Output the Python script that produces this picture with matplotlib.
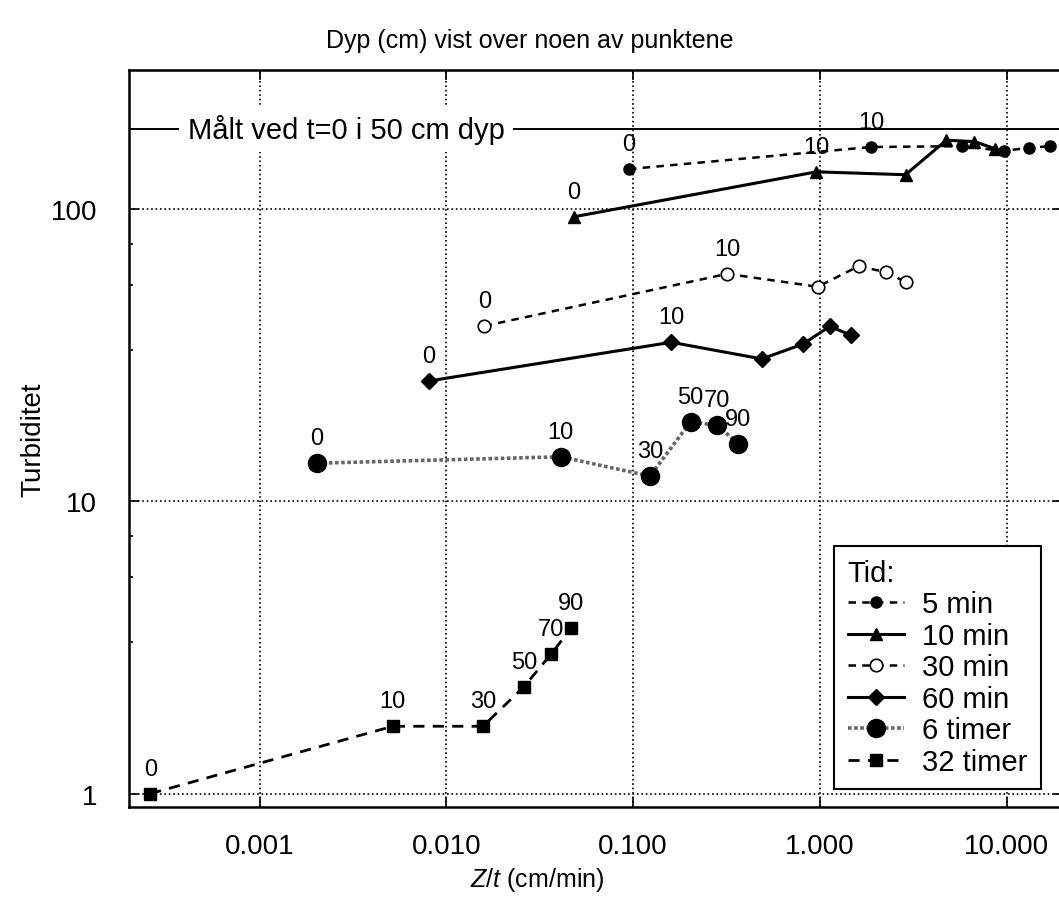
import numpy as np
import matplotlib
matplotlib.use("Agg")
import matplotlib.pyplot as plt
from matplotlib.ticker import LogLocator, FixedFormatter, FixedLocator, NullLocator

plt.rcParams['font.family'] = ['Liberation Sans', 'DejaVu Sans']
plt.rcParams['mathtext.fontset'] = 'custom'
plt.rcParams['mathtext.it'] = 'Liberation Sans:italic'
plt.rcParams['mathtext.rm'] = 'Liberation Sans'

# Z/t (cm/min) and turbiditet per tid
x_5min = [0.095, 1.88, 5.74, 9.64, 13.1, 17.1]
y_5min = [137, 163, 164, 158, 162, 164]
d_5min = ["0", "10", "", "", "", ""]

x_10min = [0.048, 0.957, 2.87, 4.75, 6.71, 8.6]
y_10min = [94, 134, 131, 172, 170, 161]
d_10min = ["0", "10", "", "", "", ""]

x_30min = [0.016, 0.319, 0.97, 1.61, 2.26, 2.9]
y_30min = [39.8, 60, 54.2, 63.7, 60.8, 56.1]
d_30min = ["0", "10", "", "", "", ""]

x_60min = [0.00805, 0.160, 0.488, 0.81, 1.13, 1.46]
y_60min = [25.8, 35.0, 30.7, 34.5, 39.7, 37.0]
d_60min = ["0", "10", "", "", "", ""]

x_6t = [0.00202, 0.041, 0.123, 0.203, 0.282, 0.366]
y_6t = [13.5, 14.2, 12.2, 18.7, 18.2, 15.7]
d_6t = ["0", "10", "30", "50", "70", "90"]

x_32t = [0.00026, 0.00517, 0.0157, 0.026, 0.0365, 0.0467]
y_32t = [1.0, 1.70, 1.70, 2.32, 3.01, 3.69]
d_32t = ["0", "10", "30", "50", "70", "90"]

ref_level = 188  # målt ved t=0 i 50 cm dyp

xticks = [0.001, 0.01, 0.1, 1, 10]
xticklabels = ["0.001", "0.010", "0.100", "1.000", "10.000"]
yticks = [1, 10, 100]
yticklabels = ["1", "10", "100"]

fig = plt.figure(figsize=(10.59, 9.03), dpi=100)
ax = fig.add_axes([0.1218, 0.1052, 0.882, 0.8167])
ax.set_xscale('log')
ax.set_yscale('log')
ax.set_xlim(0.0002, 20)
ax.set_ylim(0.9, 300)

series = [
    (x_5min, y_5min, d_5min, "5 min", dict(ls=(0, (3, 2.5)), lw=1.8, marker='o', ms=8, mfc='k')),
    (x_10min, y_10min, d_10min, "10 min", dict(ls='-', lw=2.2, marker='^', ms=9, mfc='k')),
    (x_30min, y_30min, d_30min, "30 min", dict(ls=(0, (3, 2.5)), lw=1.8, marker='o', ms=9, mfc='white', mew=1.2)),
    (x_60min, y_60min, d_60min, "60 min", dict(ls='-', lw=2.2, marker='D', ms=8, mfc='k')),
    (x_6t, y_6t, d_6t, "6 timer", dict(ls=(0, (1, 0.7)), lw=2.6, marker='o', ms=13, mfc='k')),
    (x_32t, y_32t, d_32t, "32 timer", dict(ls=(0, (4, 3)), lw=2.0, marker='s', ms=9, mfc='k')),
]

for xs, ys, ds, lab, st in series:
    color = '0.4' if lab == "6 timer" else 'k'
    ax.plot(xs, ys, color=color, mec='k', label=lab, zorder=3, **st)
    for xv, yv, dv in zip(xs, ys, ds):
        if dv:
            ax.annotate(dv, (xv, yv), xytext=(0, 18), textcoords='offset points',
                        ha='center', va='center', fontsize=17, zorder=4)

ax.axhline(ref_level, color='k', lw=1.4, zorder=2)
ax.text(0.063, ref_level, "Målt ved t=0 i 50 cm dyp", transform=ax.get_yaxis_transform(),
        ha='left', va='center', fontsize=21, zorder=5,
        bbox=dict(fc='white', ec='none', pad=6))

ax.xaxis.set_major_locator(FixedLocator(xticks))
ax.xaxis.set_major_formatter(FixedFormatter(xticklabels))
ax.xaxis.set_minor_locator(NullLocator())
ax.yaxis.set_major_locator(FixedLocator(yticks))
ax.yaxis.set_major_formatter(FixedFormatter(yticklabels))
ax.yaxis.set_minor_locator(LogLocator(base=10, subs=(3.3, 5.5, 7.6)))

ax.tick_params(which='both', direction='in', top=True, right=True, labelsize=20, width=1.2)
ax.tick_params(which='major', length=7)
ax.tick_params(which='minor', length=3)
ax.tick_params(axis='x', pad=19)
ax.tick_params(axis='y', pad=23)
ax.grid(True, which='major', color='k', ls=':', lw=1.2)
for s in ax.spines.values():
    s.set_linewidth(1.8)

ax.set_ylabel("Turbiditet", fontsize=20, labelpad=3)
fig.text(537 / 1059, 1 - 880 / 903, r"$Z/t$ (cm/min)", ha='center', va='center', fontsize=18)
fig.text(0.5, 0.955, "Dyp (cm) vist over noen av punktene", ha='center', va='center', fontsize=18)

leg = ax.legend(title="Tid:", loc='lower right', bbox_to_anchor=(0.9764, 0.0244),
                borderaxespad=0, fontsize=21, title_fontsize=21, alignment='left',
                fancybox=False, edgecolor='k', framealpha=1, handlelength=1.95,
                handletextpad=0.62, labelspacing=0.12, borderpad=0.45)
leg.get_frame().set_linewidth(1.5)

fig.savefig("out.png", dpi=100)
